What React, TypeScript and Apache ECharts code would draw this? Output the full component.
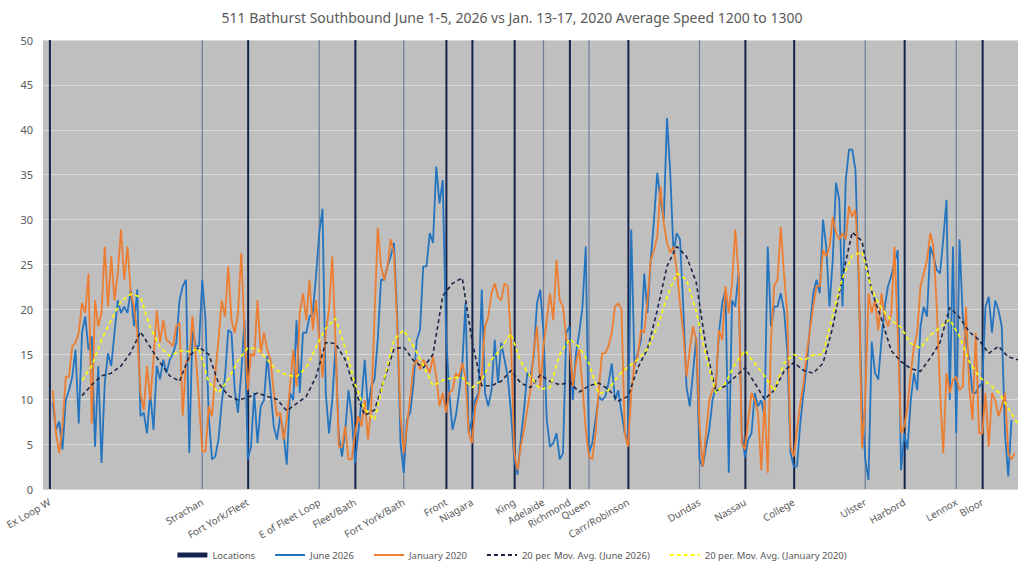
import React, { useEffect, useRef } from "react";
import * as echarts from "echarts";

const TITLE = "511 Bathurst Southbound June 1-5, 2026 vs Jan. 13-17, 2020 Average Speed 1200 to 1300";
const POINT_COUNT = 301;

const LOCATION_NAMES = [
  "Ex Loop W", "Strachan", "Fort York/Fleet", "E of Fleet Loop", "Fleet/Bath", "Fort York/Bath",
  "Front", "Niagara", "King", "Adelaide", "Richmond", "Queen", "Carr/Robinson", "Dundas",
  "Nassau", "College", "Ulster", "Harbord", "Lennox", "Bloor",
];
const LOCATION_INDEX = [2, 49, 63, 85, 96, 111, 124, 132, 145, 154, 162, 168, 180, 202, 216, 231, 253, 265, 281, 289];
const LOCATION_MAJOR = [1, 0, 1, 0, 1, 0, 1, 1, 1, 0, 1, 0, 1, 0, 1, 1, 0, 1, 0, 1];
const LOCATION_HEIGHT = 50;

const JUNE_START = 3;
const JUNE_2026 = [
  9.6, 6.6, 7.5, 4.4, 9.9, 11, 12.5, 15.5, 7.3, 17.4, 19.2, 15.5, 17, 4.7, 13.7, 2.9, 11.8, 15.1, 13.7, 17.4,
  21, 19.6, 20.3, 19.6, 22.2, 18.1, 22.2, 8.1, 8.5, 6.2, 10.7, 6.6, 13.7, 12.2, 14.4, 12.9, 14.4, 15.1, 16.3, 21,
  22.6, 23.3, 4.0, 17.7, 15.9, 15.9, 23.3, 18.8, 8.1, 3.3, 3.6, 5.5, 9.6, 12.5, 17.7, 17.4, 11, 8.5, 12.9, 18.8,
  3.3, 4.7, 10.7, 5.1, 9.2, 9.9, 14.8, 11, 7, 5.5, 8.1, 6.2, 2.7, 10.7, 9.9, 18.8, 10.7, 17.4, 17.4, 19.2,
  19.6, 23.7, 28.5, 31.2, 10.7, 6.2, 9.9, 15.9, 5.9, 3.6, 6.6, 11, 8.1, 2.9, 6.2, 9.9, 14.4, 8.8, 11.4, 12.2,
  16.6, 23.3, 23.3, 24.8, 25.9, 27.4, 19.2, 5.1, 1.8, 7.7, 8.5, 11.8, 16.6, 17.7, 24.8, 24.8, 28.5, 27.4, 35.9, 31.8,
  34.4, 17.4, 10.7, 6.6, 8.1, 10.7, 13.8, 20.7, 6.2, 7.7, 9.9, 10.7, 22.2, 10.7, 9.2, 11, 16.6, 11.8, 16.3, 14.4,
  12.5, 8.5, 3.3, 1.6, 5.5, 8.8, 12.9, 12.5, 14.8, 20.7, 22.2, 17.4, 7.7, 4.7, 5.1, 6.2, 3.3, 4, 17.4, 18.1,
  9.9, 15.1, 17.4, 20.3, 27, 4, 5.1, 7.7, 10.3, 9.9, 10.3, 11.8, 14, 9.9, 11, 8.5, 6.2, 5.5, 28.9, 13.7,
  15.1, 16.6, 24, 19.6, 25.5, 30, 35.2, 32.2, 30, 41.3, 35.2, 26.3, 28.5, 27.8, 20.3, 11.4, 9.2, 12.9, 16.9, 3.3,
  2.5, 4.7, 6.6, 9.9, 11.4, 17.4, 20.7, 22.2, 1.8, 21, 20.3, 24, 6.2, 3.5, 5.5, 6.2, 10.7, 9.2, 9.9, 8.1,
  27, 18.1, 20.3, 20.3, 21.8, 19.9, 15.5, 4, 2.5, 2.5, 7.3, 10.7, 13.7, 18.1, 21.8, 23.3, 21.8, 30, 27, 20.3,
  25.5, 34.1, 32.2, 20.3, 34.4, 37.8, 37.8, 35.5, 22.9, 9.1, 3.3, 1, 16.4, 12.9, 12.2, 16.6, 20.3, 22.6, 23.7, 25.2,
  26.6, 2.1, 6.2, 4.4, 9.9, 12.9, 11, 18.1, 20.3, 19.2, 27, 25.9, 24.4, 24, 27.8, 32.2, 9.9, 27, 6.2, 27.8,
  19.2, 16.6, 14.4, 10.7, 10.7, 11.4, 11.8, 20.3, 21.4, 17.4, 21, 19.9, 18.1, 6.2, 1.4, 7.7,
];

const JAN_START = 3;
const JAN_2020 = [
  11, 6.2, 4, 7, 12.5, 12.5, 15.9, 16.3, 17.4, 20.7, 19.6, 24, 7.3, 21, 18.1, 19.6, 27, 20.3, 25.9, 21,
  24, 28.9, 23.3, 27, 21.8, 20.3, 17.4, 10.7, 8.8, 13.7, 9.9, 14.4, 19.9, 16.3, 18.8, 16.6, 16.3, 15.9, 18.1, 18.5,
  8.1, 14.2, 14.4, 19.2, 14.8, 9.9, 4.2, 4.2, 9.2, 8.1, 12.9, 16.6, 21, 19.2, 24.8, 18.8, 17.4, 19.6, 26.3, 17.4,
  11, 15.1, 14.8, 21, 15.1, 17.4, 15.5, 14.4, 10.7, 8.1, 8.5, 5.5, 7.7, 11.4, 15.5, 11.4, 19.6, 21.8, 18.8, 23.3,
  17.7, 21, 16.6, 12.4, 17.4, 20, 25.9, 16.6, 4.7, 4.7, 7, 3.3, 3.3, 6.2, 8.1, 7, 9.9, 5.5, 9.2, 19.2,
  29.1, 24.8, 23.3, 24.8, 27.8, 26.3, 18.1, 8.1, 4, 7, 10.3, 13.7, 14.4, 13.3, 14.4, 13.7, 12.9, 14.8, 12.5, 9.2,
  10.7, 8.5, 10.7, 11, 12.9, 12.5, 14, 12.5, 6.2, 5.1, 9.2, 10.3, 12.9, 18.1, 19.2, 21.8, 22.9, 21.4, 21, 22.9,
  22.6, 16.6, 4, 2.1, 4.7, 6.6, 8.8, 11, 15.5, 18.1, 11.4, 15.9, 18.8, 21.8, 18.8, 25.5, 21, 20.3, 16.6, 16.3,
  11.4, 14, 15.5, 11.4, 6.6, 3.6, 3.3, 6.2, 11, 15.1, 15.1, 15.9, 17.4, 20.3, 20.7, 20, 6.2, 4.7, 10.7, 14,
  14.8, 17.7, 17.4, 21, 25.5, 26.6, 28.1, 33.7, 29.6, 27.4, 26.3, 27, 24.4, 20.7, 17.4, 12.5, 15.5, 18.1, 16.6, 7,
  2.5, 6.2, 9.9, 11, 11.4, 17.7, 16.6, 22.6, 19.6, 22.9, 28.9, 24, 5.1, 4.4, 7.7, 10.7, 9.9, 8.5, 2.1, 9.9,
  1.8, 16.6, 22.6, 23.3, 29.2, 24, 19.6, 4.7, 3.6, 6.6, 9.5, 11.8, 15.1, 17.7, 20.3, 22.6, 22.6, 26.6, 25.9, 27,
  30.3, 28.5, 27.8, 28.5, 27.8, 31.5, 30.3, 31.1, 24, 4.5, 9.9, 21.8, 19.6, 21, 17.7, 21.8, 19.2, 18.1, 19.6, 27,
  17.4, 6.2, 7, 9.2, 12.9, 15.9, 17.4, 22.6, 24, 25.5, 28.5, 27, 20.3, 11, 4, 12.9, 10.7, 12.2, 12.5, 11,
  11.4, 20.3, 11.4, 7.7, 17.4, 6.2, 6.2, 10.7, 4.7, 10.7, 9.9, 8.1, 9.2, 10.7, 4, 3.3, 4,
];

const MA_START = 12;
const MA_STEP = 3;
const MA_JUNE_2026 = [
  10.4, 11.6, 12.6, 12.9, 13.7, 15.2, 17.5, 15.8, 14.1, 12.6, 12.0, 14.8, 15.8, 15.0, 11.8, 10.4, 9.9, 10.2, 10.7, 10.3,
  10.0, 8.7, 9.5, 10.3, 12.5, 16.3, 16.2, 14.4, 11.0, 8.2, 8.8, 12.2, 15.6, 15.8, 14.3, 13.5, 15.0, 21.5, 22.9, 23.5,
  16.5, 11.5, 11.5, 12.0, 13.2, 11.8, 11.3, 12.7, 12.0, 11.6, 11.9, 10.8, 11.5, 11.8, 11.1, 9.8, 10.3, 13.5, 15.6, 19.9,
  24.8, 27.0, 25.9, 23.0, 15.8, 10.9, 11.5, 12.5, 13.5, 11.8, 10.0, 11.0, 13.1, 14.1, 13.2, 12.9, 14.0, 18.0, 23.7, 28.6,
  27.6, 22.0, 18.9, 15.4, 14.2, 13.4, 13.1, 14.6, 16.3, 20.2, 19.1, 17.5, 16.6, 15.1, 15.9, 14.7, 14.4,
];
const MA_JAN_2020 = [
  12.1, 13.7, 16.6, 18.8, 20.9, 21.7, 21.4, 18.0, 15.8, 14.8, 15.4, 15.3, 15.6, 11.9, 10.7, 12.2, 14.3, 15.7, 15.6, 14.4,
  13.2, 12.7, 12.5, 13.5, 15.8, 17.9, 19.0, 15.7, 11.7, 8.9, 7.7, 12.3, 16.6, 17.7, 15.9, 13.8, 11.5, 12.1, 12.4, 12.4,
  11.3, 12.1, 14.4, 15.7, 17.3, 14.2, 12.5, 11.1, 11.3, 15.0, 16.7, 15.8, 14.0, 10.6, 11.0, 12.6, 13.6, 14.4, 15.6, 18.0,
  21.4, 24.0, 23.3, 19.8, 14.8, 10.7, 11.8, 14.0, 15.4, 14.0, 12.6, 10.9, 14.0, 15.0, 14.3, 14.9, 15.0, 19.4, 23.5, 26.0,
  26.4, 22.2, 20.1, 18.8, 18.0, 16.2, 15.7, 17.1, 18.0, 18.9, 17.0, 14.2, 12.5, 11.7, 10.8, 9.0, 7.2,
];

const TEXT_COLOR = "#595959";
const FONT = "'Noto Sans', sans-serif";

function buildOption() {
  const categories = Array.from({ length: POINT_COUNT }, () => "");
  LOCATION_INDEX.forEach((idx, k) => {
    categories[idx] = LOCATION_NAMES[k];
  });
  const majorBars = LOCATION_INDEX.filter((_, k) => LOCATION_MAJOR[k] === 1).map((idx) => [idx, LOCATION_HEIGHT]);
  const minorBars = LOCATION_INDEX.filter((_, k) => LOCATION_MAJOR[k] === 0).map((idx) => [idx, LOCATION_HEIGHT]);
  const june = JUNE_2026.map((v, k) => [JUNE_START + k, v]);
  const jan = JAN_2020.map((v, k) => [JAN_START + k, v]);
  const maJune = MA_JUNE_2026.map((v, k) => [MA_START + k * MA_STEP, v]);
  const maJan = MA_JAN_2020.map((v, k) => [MA_START + k * MA_STEP, v]);
  const hiddenSymbol = { opacity: 0 };

  return {
    animation: false,
    backgroundColor: "#ffffff",
    textStyle: { fontFamily: FONT },
    title: {
      text: TITLE,
      left: "center",
      top: 5,
      textStyle: { fontFamily: FONT, fontSize: 14, fontWeight: "normal", color: TEXT_COLOR },
    },
    grid: {
      left: 43,
      right: 6,
      top: 40,
      bottom: 80,
      show: true,
      backgroundColor: "#bfbfbf",
      borderWidth: 0,
    },
    legend: {
      top: 545,
      left: "center",
      itemWidth: 30,
      itemHeight: 5,
      itemGap: 19,
      textStyle: { fontFamily: FONT, fontSize: 9.5, color: TEXT_COLOR },
      data: [
        { name: "Locations", icon: "rect" },
        { name: "June 2026", itemStyle: hiddenSymbol },
        { name: "January 2020", itemStyle: hiddenSymbol },
        { name: "20 per. Mov. Avg. (June 2026)", itemStyle: hiddenSymbol },
        { name: "20 per. Mov. Avg. (January 2020)", itemStyle: hiddenSymbol },
      ],
    },
    xAxis: {
      type: "category",
      data: categories,
      boundaryGap: false,
      axisLine: { show: false },
      axisTick: { show: false },
      splitLine: { show: false },
      axisLabel: {
        interval: 0,
        rotate: 30,
        color: TEXT_COLOR,
        fontFamily: FONT,
        fontSize: 10,
        margin: 12,
      },
    },
    yAxis: {
      type: "value",
      min: 0,
      max: 50,
      interval: 5,
      axisLine: { show: false },
      axisTick: { show: false },
      axisLabel: { color: TEXT_COLOR, fontFamily: FONT, fontSize: 11, margin: 10 },
      splitLine: { lineStyle: { color: "#dadada", width: 1 } },
    },
    series: [
      {
        name: "Locations",
        type: "bar",
        data: majorBars,
        barWidth: 2,
        barGap: "-100%",
        itemStyle: { color: "#14234d" },
        z: 1,
      },
      {
        name: "Locations minor",
        type: "bar",
        data: minorBars,
        barWidth: 1.2,
        barGap: "-100%",
        itemStyle: { color: "#6f7c9c" },
        z: 1,
      },
      {
        name: "June 2026",
        type: "line",
        data: june,
        symbol: "none",
        lineStyle: { color: "#2474c0", width: 1.8 },
        itemStyle: { color: "#2474c0" },
        z: 3,
      },
      {
        name: "January 2020",
        type: "line",
        data: jan,
        symbol: "none",
        lineStyle: { color: "#ed7d31", width: 1.8 },
        itemStyle: { color: "#ed7d31" },
        z: 4,
      },
      {
        name: "20 per. Mov. Avg. (June 2026)",
        type: "line",
        data: maJune,
        symbol: "none",
        lineStyle: { color: "#1b2547", width: 1.6, type: [4, 3] },
        itemStyle: { color: "#1b2547" },
        z: 5,
      },
      {
        name: "20 per. Mov. Avg. (January 2020)",
        type: "line",
        data: maJan,
        symbol: "none",
        lineStyle: { color: "#ffff00", width: 1.6, type: [4, 3] },
        itemStyle: { color: "#ffff00" },
        z: 6,
      },
    ],
  };
}

export default function App() {
  const ref = useRef<HTMLDivElement>(null);
  useEffect(() => {
    document.body.style.margin = "0";
    if (!ref.current) return;
    const chart = echarts.init(ref.current, null, { renderer: "svg" });
    chart.setOption(buildOption() as any);
    return () => chart.dispose();
  }, []);
  return <div ref={ref} style={{ width: 1024, height: 569 }} />;
}
